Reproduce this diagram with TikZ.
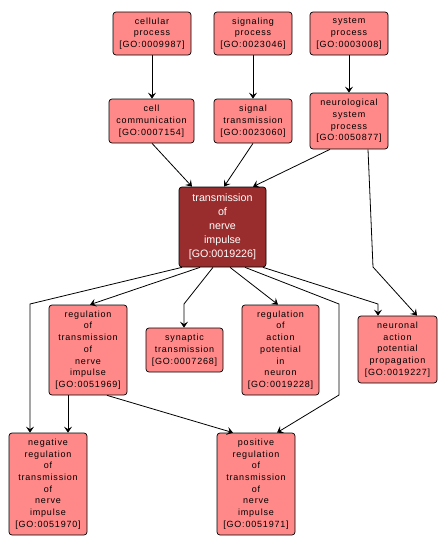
\documentclass[tikz,border=0pt]{standalone}
\usepackage{fontspec}
\setmainfont{Liberation Sans}
\newfontfamily\boxfont{Liberation Sans}[LetterSpace=9]
\usetikzlibrary{arrows.meta}
\definecolor{pale}{RGB}{255,137,137}
\definecolor{dark}{RGB}{153,45,45}
\tikzset{
  gobox/.style={draw=black, fill=pale, rounded corners=3pt, align=center, inner sep=0pt,
    line width=0.7pt, font=\boxfont\fontsize{9}{11.7}\selectfont},
  gomain/.style={gobox, fill=dark, text=white, font=\fontsize{10.7}{14}\selectfont},
  edge/.style={draw=black, line width=0.8pt, -{Stealth[length=6pt,width=8pt,inset=2.5pt]}}
}
\begin{document}
\begin{tikzpicture}[x=1pt,y=-1pt]
\useasboundingbox[fill=white] (0,0) rectangle (446,549);
\node[gobox, minimum width=78pt, minimum height=43pt] (cp) at (152,33.5) {cellular\\process\\{[GO:0009987]}};
\node[gobox, minimum width=78pt, minimum height=43pt] (sp) at (253,33.5) {signaling\\process\\{[GO:0023046]}};
\node[gobox, minimum width=78pt, minimum height=43pt] (sys) at (349,33.5) {system\\process\\{[GO:0003008]}};
\node[gobox, minimum width=85pt, minimum height=44pt] (cc) at (151.5,121) {cell\\communication\\{[GO:0007154]}};
\node[gobox, minimum width=78pt, minimum height=44pt] (st) at (253,121) {signal\\transmission\\{[GO:0023060]}};
\node[gobox, minimum width=78pt, minimum height=56pt] (nsp) at (349,121) {neurological\\system\\process\\{[GO:0050877]}};
\node[gomain, minimum width=87pt, minimum height=80pt] (tni) at (222.5,227) {transmission\\of\\nerve\\impulse\\{[GO:0019226]}};
\node[gobox, minimum width=78pt, minimum height=90pt] (rtni) at (88,350) {regulation\\of\\transmission\\of\\nerve\\impulse\\{[GO:0051969]}};
\node[gobox, minimum width=77pt, minimum height=44pt] (syn) at (184.5,350) {synaptic\\transmission\\{[GO:0007268]}};
\node[gobox, minimum width=77pt, minimum height=90pt] (rap) at (280.5,350) {regulation\\of\\action\\potential\\in\\neuron\\{[GO:0019228]}};
\node[gobox, minimum width=79pt, minimum height=67pt] (nap) at (397.5,349.5) {neuronal\\action\\potential\\propagation\\{[GO:0019227]}};
\node[gobox, minimum width=78pt, minimum height=102pt] (neg) at (48,484) {negative\\regulation\\of\\transmission\\of\\nerve\\impulse\\{[GO:0051970]}};
\node[gobox, minimum width=78pt, minimum height=102pt] (pos) at (256,484) {positive\\regulation\\of\\transmission\\of\\nerve\\impulse\\{[GO:0051971]}};
\coordinate (b1) at (373,267);
\coordinate (b2) at (30,304);
\coordinate (b3) at (184,304);
\coordinate (b4) at (339,304);
\coordinate (b5) at (339,395);
\coordinate (b6) at (378,304);
\draw[edge] (cp.south) -- (cp.south |- cc.north);
\draw[edge] (sp.south) -- (st.north);
\draw[edge] (sys.south) -- (nsp.north);
\draw[edge] ([xshift=0.5pt]cc.south) -- ([xshift=-30.5pt]tni.north);
\draw[edge] (st.south) -- ([xshift=1.5pt]tni.north);
\draw[edge] ([xshift=-19pt]nsp.south) -- ([xshift=30.5pt]tni.north);
\draw[edge] ([xshift=19pt]nsp.south) -- (b1) -- ([xshift=19.5pt]nap.north);
\draw[edge] ([xshift=-40.5pt]tni.south) -- (b2) -- ([xshift=-18pt]neg.north);
\draw[edge] ([xshift=-22.5pt]tni.south) -- ([xshift=2pt]rtni.north);
\draw[edge] ([xshift=-9.5pt]tni.south) -- (b3) -- (b3 |- syn.north);
\draw[edge] ([xshift=7.5pt]tni.south) -- ([xshift=-2.5pt]rap.north);
\draw[edge] ([xshift=22.5pt]tni.south) -- (b4) -- (b5) -- ([xshift=21pt]pos.north);
\draw[edge] ([xshift=40.5pt]tni.south) -- (b6) -- (b6 |- nap.north);
\draw[edge] ([xshift=-20pt]rtni.south) -- ([xshift=20pt]neg.north);
\draw[edge] ([xshift=19pt]rtni.south) -- ([xshift=-23pt]pos.north);
\end{tikzpicture}
\end{document}
